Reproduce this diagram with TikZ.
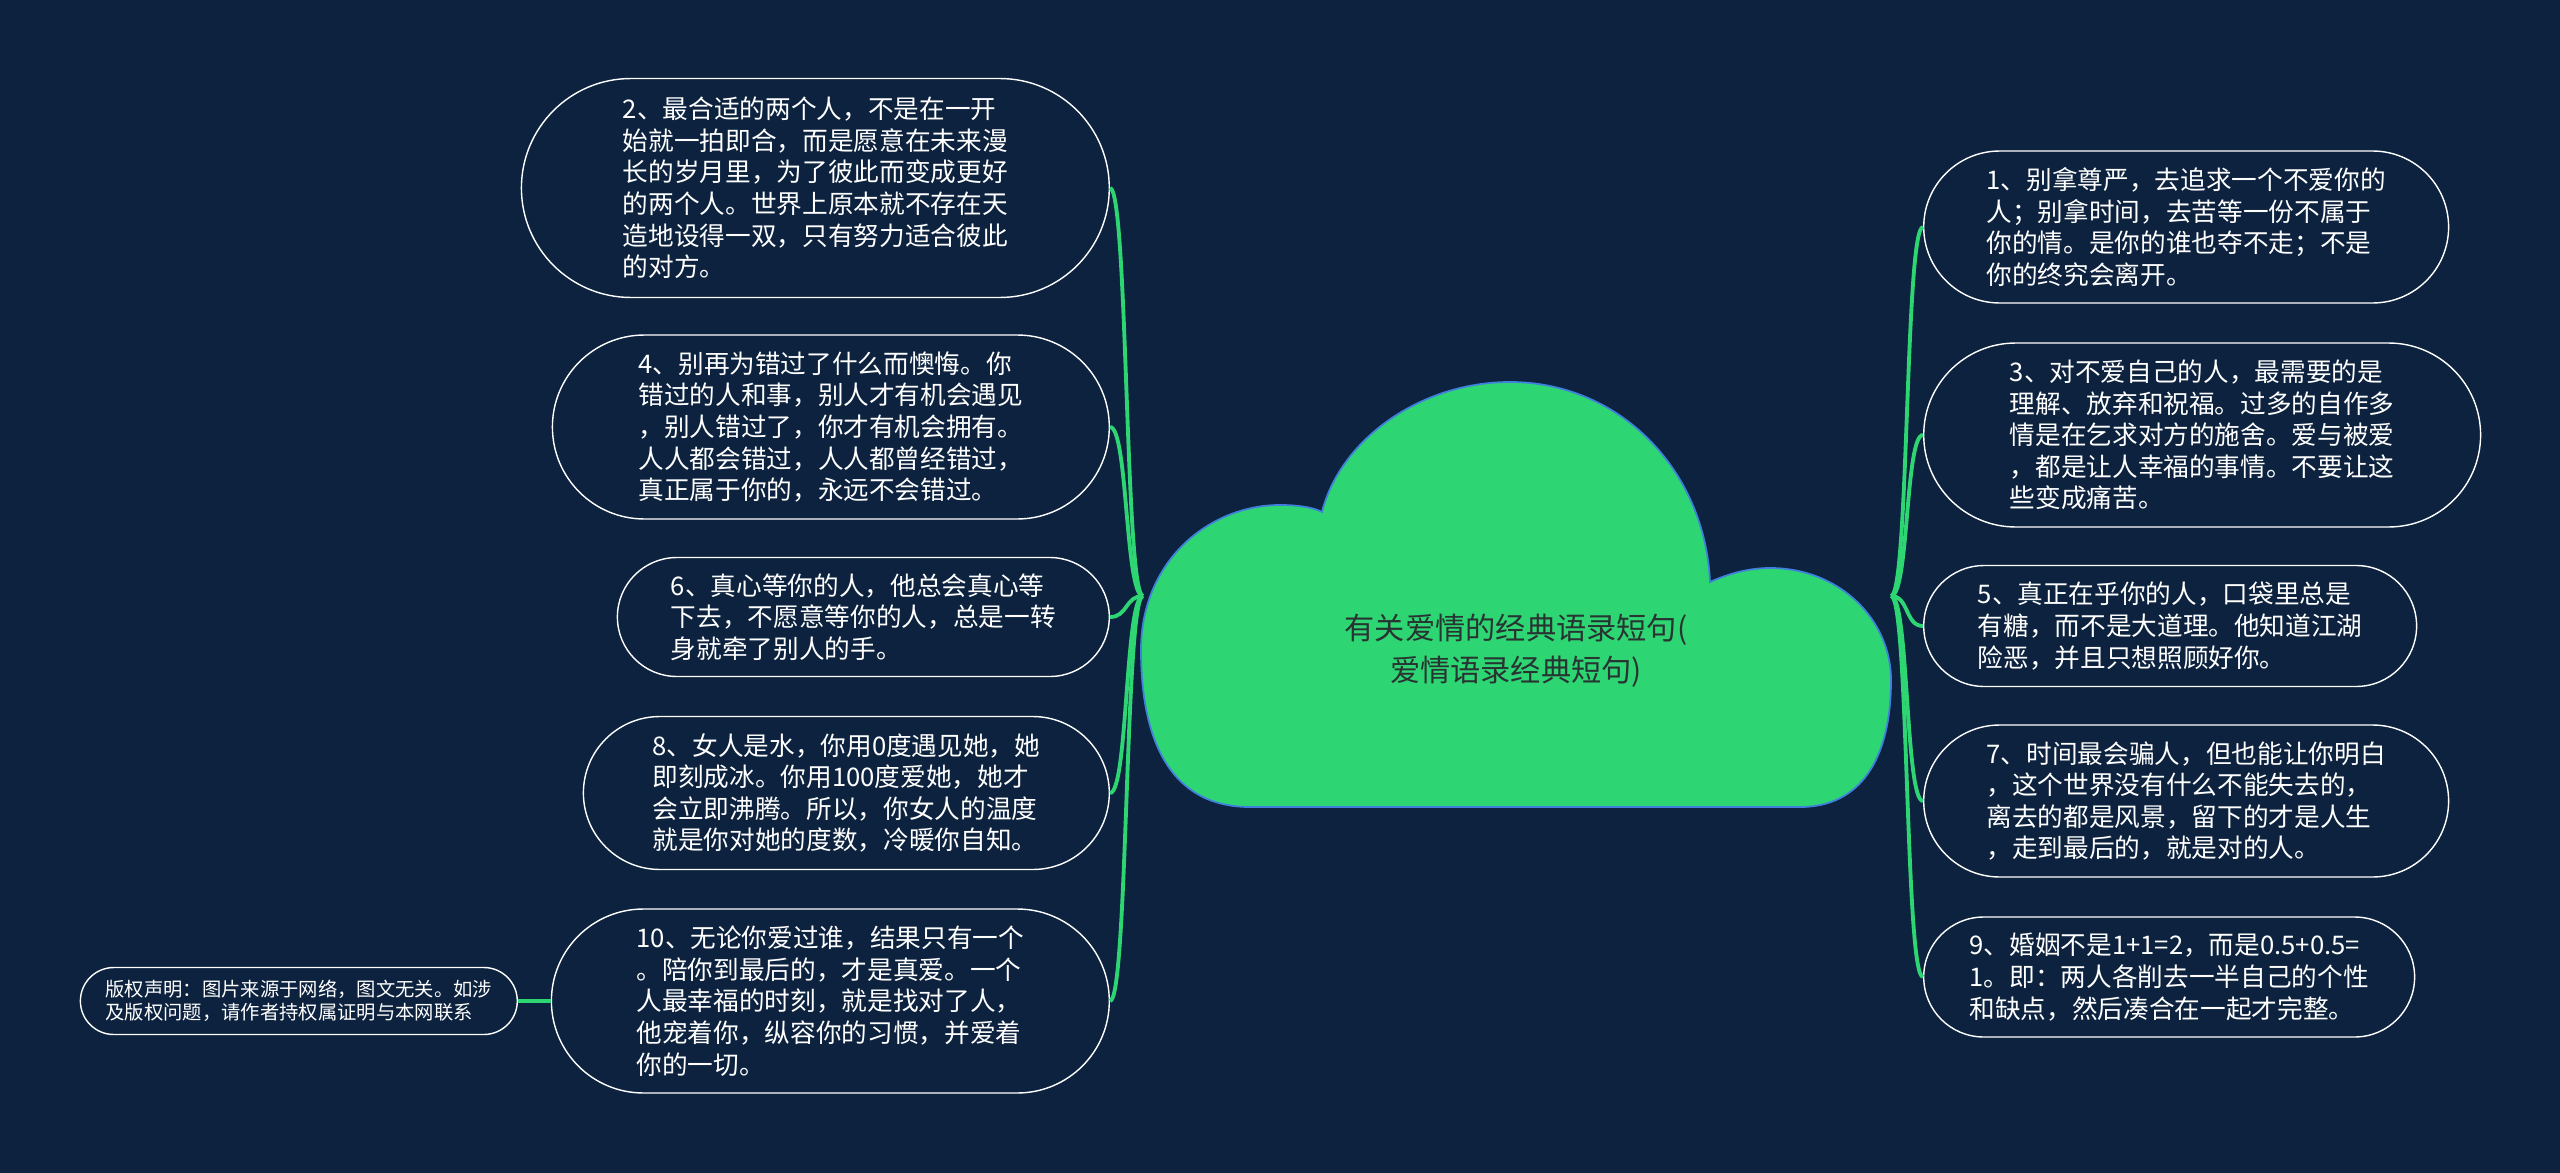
\documentclass[tikz,border=0pt]{standalone}
\usepackage{fontspec}
\setmainfont{Noto Sans CJK SC}
\usetikzlibrary{shapes.misc}
\definecolor{bgnavy}{RGB}{12,34,62}
\definecolor{cloudgreen}{RGB}{46,213,115}
\definecolor{cloudblue}{RGB}{64,128,220}
\definecolor{linkgreen}{RGB}{46,213,115}
\definecolor{titlegray}{RGB}{40,52,50}

\begin{document}
\begin{tikzpicture}[
    x=0.02cm, y=-0.02cm,
    font=\fontsize{14.6}{18}\selectfont,
    quote/.style={draw=white, line width=0.8pt, fill=bgnavy, rounded rectangle, align=left, text=white, inner sep=0pt},
    link/.style={draw=linkgreen, line width=2.2pt}
]
  \fill[bgnavy] (0,0) rectangle (2560,1173);
  \useasboundingbox (0,0) rectangle (2560,1173);

  % ===== Citas (izquierda) =====
  \node[quote, anchor=east, minimum width=11.76cm, minimum height=4.38cm] (q2) at (1110,188)
    {2、最合适的两个人，不是在一开\\始就一拍即合，而是愿意在未来漫\\长的岁月里，为了彼此而变成更好\\的两个人。世界上原本就不存在天\\造地设得一双，只有努力适合彼此\\的对方。};
  \node[quote, anchor=east, minimum width=11.14cm, minimum height=3.68cm] (q4) at (1110,427)
    {4、别再为错过了什么而懊悔。你\\错过的人和事，别人才有机会遇见\\，别人错过了，你才有机会拥有。\\人人都会错过，人人都曾经错过，\\真正属于你的，永远不会错过。};
  \node[quote, anchor=east, minimum width=9.84cm, minimum height=2.38cm] (q6) at (1110,617)
    {6、真心等你的人，他总会真心等\\下去，不愿意等你的人，总是一转\\身就牵了别人的手。};
  \node[quote, anchor=east, minimum width=10.52cm, minimum height=3.06cm] (q8) at (1110,793)
    {8、女人是水，你用0度遇见她，她\\即刻成冰。你用100度爱她，她才\\会立即沸腾。所以，你女人的温度\\就是你对她的度数，冷暖你自知。};
  \node[quote, anchor=east, minimum width=11.16cm, minimum height=3.68cm] (q10) at (1110,1001)
    {10、无论你爱过谁，结果只有一个\\。陪你到最后的，才是真爱。一个\\人最幸福的时刻，就是找对了人，\\他宠着你，纵容你的习惯，并爱着\\你的一切。};
  \node[quote, anchor=east, minimum width=8.74cm, minimum height=1.34cm,
        font=\fontsize{11}{13}\selectfont] (note) at (518,1001)
    {版权声明：图片来源于网络，图文无关。如涉\\及版权问题，请作者持权属证明与本网联系};

  % ===== Citas (derecha) =====
  \node[quote, anchor=west, minimum width=10.5cm, minimum height=3.04cm] (q1) at (1923,227)
    {1、别拿尊严，去追求一个不爱你的\\人；别拿时间，去苦等一份不属于\\你的情。是你的谁也夺不走；不是\\你的终究会离开。};
  \node[quote, anchor=west, minimum width=11.14cm, minimum height=3.68cm] (q3) at (1923,435)
    {3、对不爱自己的人，最需要的是\\理解、放弃和祝福。过多的自作多\\情是在乞求对方的施舍。爱与被爱\\，都是让人幸福的事情。不要让这\\些变成痛苦。};
  \node[quote, anchor=west, minimum width=9.86cm, minimum height=2.42cm] (q5) at (1923,626)
    {5、真正在乎你的人，口袋里总是\\有糖，而不是大道理。他知道江湖\\险恶，并且只想照顾好你。};
  \node[quote, anchor=west, minimum width=10.5cm, minimum height=3.04cm] (q7) at (1923,801)
    {7、时间最会骗人，但也能让你明白\\，这个世界没有什么不能失去的，\\离去的都是风景，留下的才是人生\\，走到最后的，就是对的人。};
  \node[quote, anchor=west, minimum width=9.82cm, minimum height=2.4cm] (q9) at (1923,977)
    {9、婚姻不是1+1=2，而是0.5+0.5=\\1。即：两人各削去一半自己的个性\\和缺点，然后凑合在一起才完整。};

  % conectores
  \coordinate (hubL) at (1143,596);
  \coordinate (hubR) at (1891,596);
  \foreach \n in {q2,q4,q6,q8,q10}
    \draw[link] (hubL) .. controls +(-18,0) and +(18,0) .. (\n.east);
  \foreach \n in {q1,q3,q5,q7,q9}
    \draw[link] (hubR) .. controls +(18,0) and +(-18,0) .. (\n.west);
  \draw[link] (q10.west) -- (note.east);

  % ===== Nube central =====
  \draw[fill=cloudgreen, draw=cloudblue, line width=1pt]
    (1250,807) .. controls (1170,807) and (1141,740) .. (1141,650)
    .. controls (1141,560) and (1210,505) .. (1280,505)
    .. controls (1300,505) and (1315,508) .. (1322,512)
    .. controls (1340,440) and (1420,382) .. (1510,382)
    .. controls (1620,382) and (1705,470) .. (1710,582)
    .. controls (1730,573) and (1750,568) .. (1770,568)
    .. controls (1840,568) and (1891,620) .. (1891,680)
    .. controls (1891,760) and (1860,807) .. (1800,807)
    -- cycle;
  \node[font=\fontsize{17.2}{24}\selectfont, text=titlegray, align=center] (root) at (1516,651)
    {有关爱情的经典语录短句(\\爱情语录经典短句)};
\end{tikzpicture}
\end{document}
